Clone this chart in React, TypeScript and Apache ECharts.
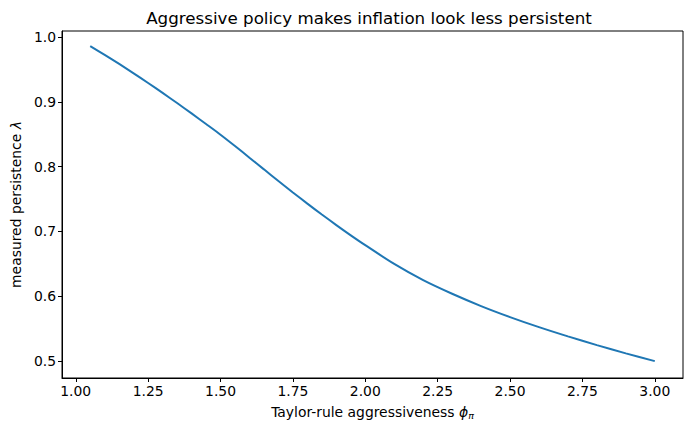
import React, { useEffect, useRef } from "react";
import * as echarts from "echarts";

const phi = [1.05, 1.1, 1.15, 1.2, 1.25, 1.3, 1.35, 1.4, 1.45, 1.5, 1.55, 1.6, 1.65, 1.7, 1.75, 1.8, 1.85, 1.9, 1.95, 2.0, 2.1, 2.2, 2.3, 2.4, 2.5, 2.6, 2.7, 2.8, 2.9, 3.0];
const lambda = [0.986, 0.9725, 0.9585, 0.944, 0.929, 0.9138, 0.8981, 0.8821, 0.8658, 0.8493, 0.8318, 0.8138, 0.7958, 0.7778, 0.7601, 0.7429, 0.7261, 0.7098, 0.694, 0.6788, 0.6498, 0.6248, 0.6038, 0.5848, 0.5678, 0.5523, 0.538, 0.5245, 0.5118, 0.4998];
const xTicks = [1.0, 1.25, 1.5, 1.75, 2.0, 2.25, 2.5, 2.75, 3.0];
const yTicks = [0.5, 0.6, 0.7, 0.8, 0.9, 1.0];

const FONT = "DejaVu Sans";
const FS = 13.9;

export default function App() {
  const ref = useRef<HTMLDivElement>(null);
  useEffect(() => {
    document.body.style.margin = "0";
    const chart = echarts.init(ref.current!, null, { renderer: "svg" });
    chart.setOption({
      animation: false,
      backgroundColor: "#ffffff",
      textStyle: { fontFamily: FONT },
      title: {
        text: "Aggressive policy makes inflation look less persistent",
        left: 364,
        top: 4,
        textAlign: "center",
        textStyle: { fontFamily: FONT, fontSize: 16.7, fontWeight: "normal", color: "#000" },
      },
      grid: {
        left: 62,
        right: 8,
        top: 31,
        bottom: 53,
        show: true,
        borderColor: "#000",
        borderWidth: 1,
        backgroundColor: "transparent",
      },
      xAxis: {
        type: "value",
        min: 0.9525,
        max: 3.0975,
        name: "Taylor-rule aggressiveness {i|ϕ}{s|π}",
        nameLocation: "middle",
        nameGap: 26,
        nameTextStyle: {
          fontFamily: FONT,
          fontSize: FS,
          color: "#000",
          rich: {
            i: { fontFamily: FONT, fontSize: FS, fontStyle: "italic", color: "#000" },
            s: { fontFamily: FONT, fontSize: 9.5, fontStyle: "italic", color: "#000", verticalAlign: "bottom", padding: [6, 0, 0, 0] },
          },
        },
        axisLine: { show: true, onZero: false, lineStyle: { color: "#000", width: 1 } },
        axisTick: { show: true, length: 4, inside: false, customValues: xTicks, lineStyle: { color: "#000", width: 1 } },
        axisLabel: {
          customValues: xTicks,
          formatter: (v: number) => v.toFixed(2),
          fontFamily: FONT,
          fontSize: FS,
          color: "#000",
          margin: 6,
        },
        splitLine: { show: false },
      },
      yAxis: {
        type: "value",
        min: 0.4738,
        max: 1.0093,
        name: "measured persistence {i|λ}",
        nameLocation: "middle",
        nameGap: 37,
        nameRotate: 90,
        nameTextStyle: {
          fontFamily: FONT,
          fontSize: FS,
          color: "#000",
          rich: { i: { fontFamily: FONT, fontSize: FS, fontStyle: "italic", color: "#000" } },
        },
        axisLine: { show: true, onZero: false, lineStyle: { color: "#000", width: 1 } },
        axisTick: { show: true, length: 4, inside: false, customValues: yTicks, lineStyle: { color: "#000", width: 1 } },
        axisLabel: {
          customValues: yTicks,
          formatter: (v: number) => v.toFixed(1),
          fontFamily: FONT,
          fontSize: FS,
          color: "#000",
          margin: 6,
        },
        splitLine: { show: false },
      },
      series: [
        {
          type: "line",
          data: phi.map((x, i) => [x, lambda[i]]),
          smooth: 0.3,
          showSymbol: false,
          symbol: "none",
          lineStyle: { color: "#1f77b4", width: 2 },
        },
      ],
    });
    return () => chart.dispose();
  }, []);
  return <div ref={ref} style={{ width: 691, height: 431 }} />;
}
